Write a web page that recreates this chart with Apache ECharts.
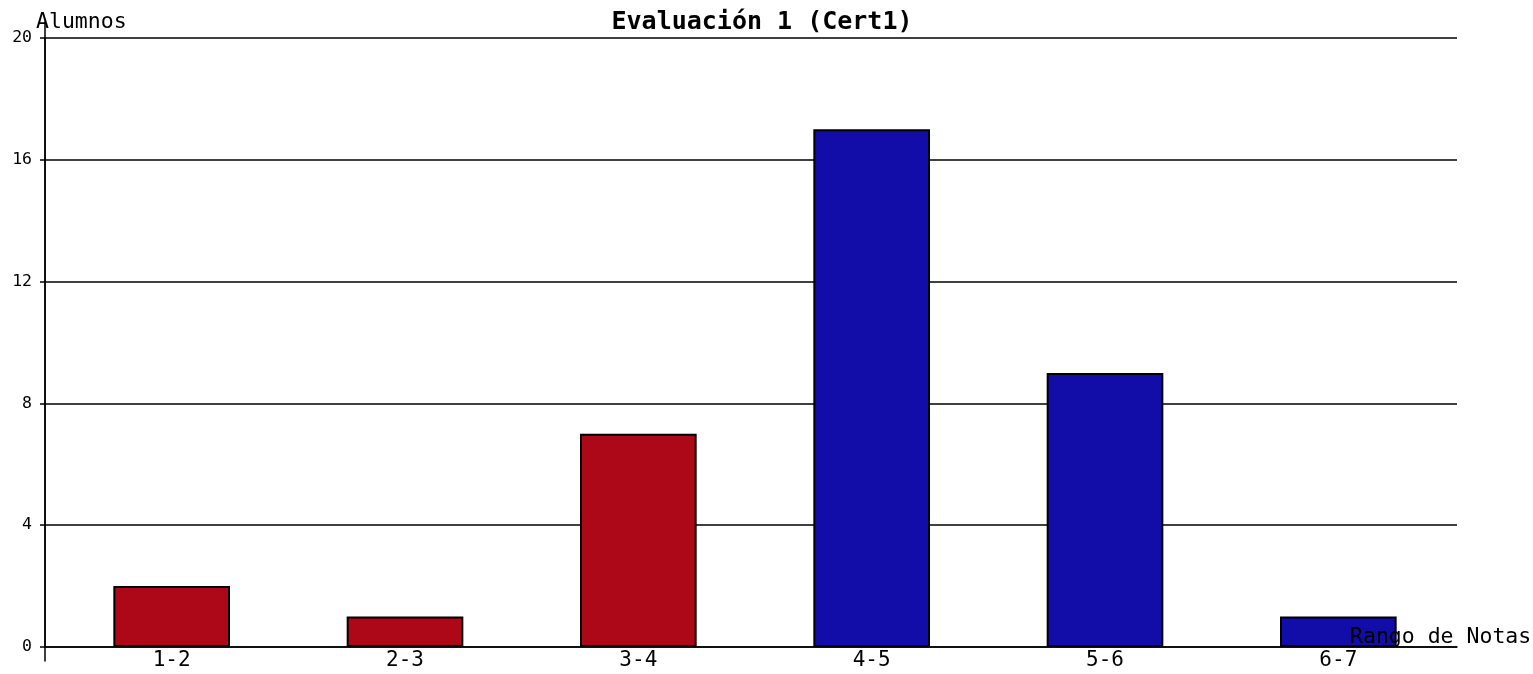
<!DOCTYPE html>
<html>
<head>
<meta charset="utf-8">
<script src="https://cdn.jsdelivr.net/npm/echarts@6/dist/echarts.min.js"></script>
<style>html,body{margin:0;padding:0;background:#fff}#c{width:1533px;height:674px}</style>
</head>
<body>
<div id="c"></div>
<script>
const categories = ['1-2', '2-3', '3-4', '4-5', '5-6', '6-7'];
const alumnos = [2, 1, 7, 17, 9, 1];
const yTicks = [0, 4, 8, 12, 16, 20];
const failingCount = 3; // first ranges drawn red (below 4)

const MONO = '"DejaVu Sans Mono", "Liberation Mono", monospace';
const chart = echarts.init(document.getElementById('c'));
chart.setOption({
  animation: false,
  backgroundColor: '#fff',
  title: [
    { text: 'Evaluación 1 (Cert1)', left: 757, top: 5, textAlign: 'center',
      textStyle: { fontFamily: MONO, fontWeight: 'bold', fontSize: 25, color: '#000' } },
    { text: 'Alumnos', left: 31, top: 6, z: 10,
      textStyle: { fontFamily: MONO, fontWeight: 'normal', fontSize: 21.5, color: '#000' } },
    { text: 'Rango de Notas', left: 1345, top: 621, z: 10,
      textStyle: { fontFamily: MONO, fontWeight: 'normal', fontSize: 21.5, color: '#000' } }
  ],
  grid: [
    { left: 45, right: 76, top: 38, bottom: 27 },
    { left: 55, right: 78, top: 38, bottom: 27 },
    { left: 45, width: 10, top: 22, bottom: 13 }
  ],
  xAxis: [
    { gridIndex: 0, type: 'value', min: 0, max: 1, show: true,
      axisLine: { show: true, lineStyle: { color: '#000', width: 1.5 } },
      axisTick: { show: false }, axisLabel: { show: false }, splitLine: { show: false } },
    { gridIndex: 1, type: 'category', data: categories,
      axisLine: { show: false }, axisTick: { show: false }, splitLine: { show: false },
      axisLabel: { margin: 3, fontFamily: MONO, fontSize: 21, color: '#000' } },
    { gridIndex: 2, type: 'value', show: false }
  ],
  yAxis: [
    { gridIndex: 0, type: 'value', min: yTicks[0], max: yTicks[yTicks.length - 1], interval: 4,
      axisLine: { show: true, lineStyle: { color: '#000', width: 1.5 } },
      axisTick: { show: true, length: 5, lineStyle: { color: '#000', width: 1.5 } },
      axisLabel: { margin: 13, fontFamily: MONO, fontSize: 16.5, color: '#000' },
      splitLine: { show: true, lineStyle: { color: '#000', width: 1.5 } } },
    { gridIndex: 1, type: 'value', min: yTicks[0], max: yTicks[yTicks.length - 1], interval: 4, show: false },
    { gridIndex: 2, type: 'value', show: true,
      axisLine: { show: true, lineStyle: { color: '#000', width: 1.5 } },
      axisTick: { show: false }, axisLabel: { show: false }, splitLine: { show: false } }
  ],
  series: [{
    type: 'bar',
    xAxisIndex: 1, yAxisIndex: 1,
    data: alumnos,
    barWidth: '50%',
    z: 3,
    itemStyle: {
      color: (p) => p.dataIndex < failingCount ? '#ad0818' : '#120ca8',
      borderColor: '#000',
      borderWidth: 2
    }
  }]
});
</script>
</body>
</html>
